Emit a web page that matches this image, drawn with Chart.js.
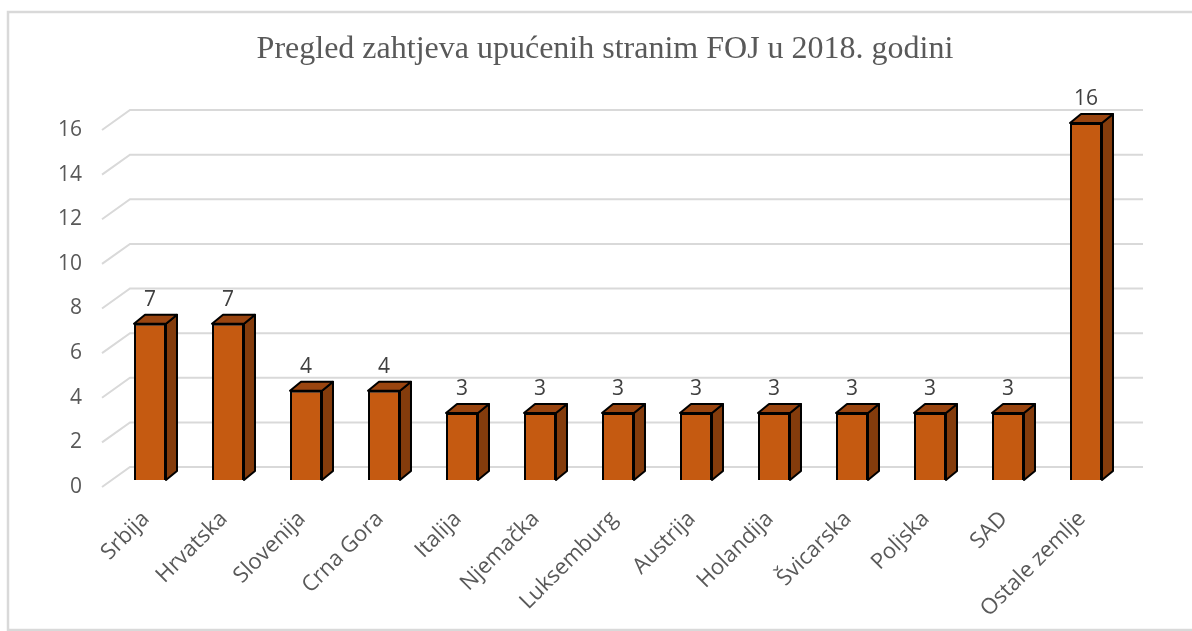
<!DOCTYPE html>
<html>
<head>
<meta charset="utf-8">
<script src="https://cdn.jsdelivr.net/npm/chart.js@4"></script>
<style>
  html, body { margin: 0; padding: 0; background: #fff; }
  #wrap { width: 1192px; height: 631px; }
</style>
</head>
<body>
<div id="wrap"><canvas id="chart" width="1192" height="631"></canvas></div>
<script>
const countries = ['Srbija', 'Hrvatska', 'Slovenija', 'Crna Gora', 'Italija', 'Njemačka',
  'Luksemburg', 'Austrija', 'Holandija', 'Švicarska', 'Poljska', 'SAD', 'Ostale zemlje'];
const requests = [7, 7, 4, 4, 3, 3, 3, 3, 3, 3, 3, 3, 16];
const yTicks = [0, 2, 4, 6, 8, 10, 12, 14, 16];
const chartTitle = 'Pregled zahtjeva upućenih stranim FOJ u 2018. godini';

const labelFont = '"Open Sans", "Liberation Sans", sans-serif';

// 3d look: side + top faces, back wall gridlines, frame
const depth = { dx: 11, dy: -9 };
const frontShift = 7;     // front edge of the floor sits below the bar fronts
const wall = { dx: 28, dy: -20 };

const frame3d = {
  id: 'frame3d',
  beforeDraw(chart) {
    const ctx = chart.ctx;
    ctx.save();
    ctx.strokeStyle = '#d9d9d9';
    ctx.lineWidth = 2.5;
    ctx.strokeRect(8, 12, 1210, 618);
    // title is not centred on the plot, so draw it here
    ctx.fillStyle = '#595959';
    ctx.font = '32px "Liberation Serif", serif';
    ctx.textAlign = 'center';
    ctx.textBaseline = 'middle';
    ctx.fillText(chartTitle, 605, 50);
    ctx.restore();
  },
  beforeDatasetsDraw(chart) {
    const ctx = chart.ctx;
    const y = chart.scales.y;
    const area = chart.chartArea;
    ctx.save();
    ctx.strokeStyle = '#d9d9d9';
    ctx.lineWidth = 2;
    yTicks.forEach(v => {
      const yf = y.getPixelForValue(v) + frontShift;
      ctx.beginPath();
      ctx.moveTo(area.left - 9, yf);
      ctx.lineTo(area.left - 9 + wall.dx, yf + wall.dy);
      ctx.lineTo(area.right + 18, yf + wall.dy);
      ctx.stroke();
    });

    // side and top faces of every bar
    const meta = chart.getDatasetMeta(0);
    ctx.strokeStyle = '#000';
    ctx.lineWidth = 2;
    ctx.lineJoin = 'round';
    meta.data.forEach(bar => {
      const p = bar.getProps(['x', 'y', 'base', 'width'], true);
      const l = p.x - p.width / 2, r = p.x + p.width / 2;
      // side
      ctx.fillStyle = '#843c0c';
      ctx.beginPath();
      ctx.moveTo(r, p.base);
      ctx.lineTo(r + depth.dx, p.base + depth.dy);
      ctx.lineTo(r + depth.dx, p.y + depth.dy);
      ctx.lineTo(r, p.y);
      ctx.closePath();
      ctx.fill();
      ctx.stroke();
      // top
      ctx.fillStyle = '#9a4510';
      ctx.beginPath();
      ctx.moveTo(l, p.y);
      ctx.lineTo(l + depth.dx, p.y + depth.dy);
      ctx.lineTo(r + depth.dx, p.y + depth.dy);
      ctx.lineTo(r, p.y);
      ctx.closePath();
      ctx.fill();
      ctx.stroke();
    });
    ctx.restore();
  },
  afterDatasetsDraw(chart) {
    const ctx = chart.ctx;
    const meta = chart.getDatasetMeta(0);
    ctx.save();
    ctx.fillStyle = '#404040';
    ctx.font = '21px ' + labelFont;
    ctx.textAlign = 'center';
    ctx.textBaseline = 'middle';
    meta.data.forEach((bar, i) => {
      ctx.fillText(String(requests[i]), bar.x, bar.y - 24);
    });
    ctx.restore();
  }
};

new Chart(document.getElementById('chart'), {
  type: 'bar',
  data: {
    labels: countries,
    datasets: [{
      label: 'Zahtjevi',
      data: requests,
      backgroundColor: '#c55a11',
      borderColor: '#000',
      borderWidth: 2,
      barPercentage: 0.41,
      categoryPercentage: 1
    }]
  },
  options: {
    responsive: false,
    animation: false,
    layout: { padding: { left: 0, right: 67, top: 123, bottom: 0 } },
    plugins: {
      legend: { display: false },
      tooltip: { enabled: false },
      title: { display: false }
    },
    scales: {
      x: {
        grid: { display: false, drawTicks: false },
        border: { display: false },
        ticks: {
          color: '#595959',
          font: { family: labelFont, size: 22 },
          maxRotation: 45,
          minRotation: 45,
          padding: 26,
          labelOffset: -4,
          autoSkip: false
        },
        afterFit(scale) { scale.height = 151; }
      },
      y: {
        min: 0,
        max: 16,
        grid: { display: false, drawTicks: false },
        border: { display: false },
        ticks: {
          stepSize: 2,
          color: '#595959',
          font: { family: labelFont, size: 21 },
          padding: 29,
          labelOffset: frontShift
        },
        afterFit(scale) { scale.width = 111; }
      }
    }
  },
  plugins: [frame3d]
});
</script>
</body>
</html>
